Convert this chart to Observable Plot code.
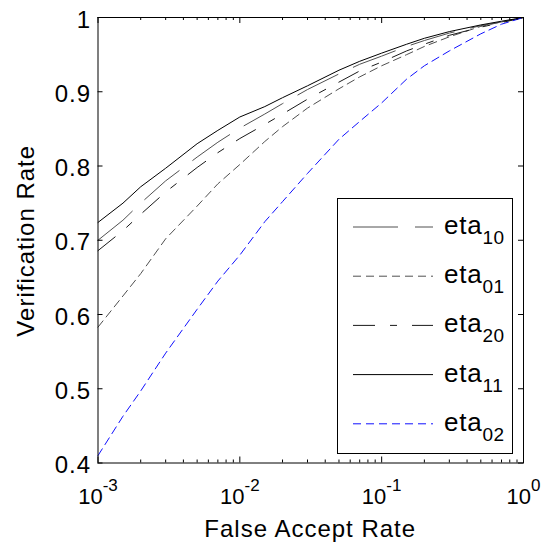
<!DOCTYPE html>
<html><head><meta charset="utf-8">
<script src="https://cdn.jsdelivr.net/npm/d3@7"></script>
<script src="https://cdn.jsdelivr.net/npm/@observablehq/plot@0.6"></script>
<style>
body{margin:0;background:#fff;}
#chart{width:545px;height:546px;}
#chart svg{font-family:"Liberation Sans",Arial,sans-serif;}
</style></head><body><div id="chart"></div>
<script>
// False accept rate sample points (x)
const far   = [0.001,0.0015,0.002,0.003,0.005,0.007,0.01,0.015,0.02,0.03,0.05,0.07,0.1,0.15,0.2,0.3,0.5,0.7,1];
// Verification rate per series
const eta10 = [0.700,0.727,0.750,0.780,0.812,0.832,0.851,0.870,0.884,0.903,0.924,0.937,0.948,0.961,0.969,0.979,0.989,0.994,1.0];
const eta01 = [0.583,0.625,0.655,0.702,0.746,0.776,0.802,0.833,0.853,0.878,0.904,0.920,0.935,0.950,0.961,0.974,0.988,0.994,1.0];
const eta20 = [0.686,0.713,0.735,0.765,0.798,0.818,0.837,0.856,0.870,0.890,0.913,0.928,0.940,0.955,0.964,0.976,0.987,0.993,1.0];
const eta11 = [0.724,0.750,0.772,0.797,0.830,0.848,0.866,0.880,0.892,0.908,0.929,0.941,0.952,0.964,0.972,0.981,0.990,0.995,1.0];
const eta02 = [0.410,0.463,0.497,0.548,0.607,0.645,0.680,0.725,0.752,0.790,0.836,0.860,0.885,0.917,0.935,0.955,0.978,0.991,1.0];

const seriesKeys = ["eta10","eta01","eta20","eta11","eta02"];
const seriesSubs = ["10","01","20","11","02"];
const seriesValues = [eta10,eta01,eta20,eta11,eta02];
const seriesColors = ["#505050","#505050","#1a1a1a","#000000","#1010ff"];
const seriesDash = ["45,17","8,5","22,15,7,15",null,"8,5"];

const yTicks = [0.4,0.5,0.6,0.7,0.8,0.9,1];
const xMajor = [0.001,0.01,0.1,1];
const xMinor = xMajor.slice(0,3).flatMap(d => d3.range(2,10).map(k => k*d));

const W = 545, H = 546;
const mT = 17, mB = 83.5, mL = 97.5, mR = 22;
const ih = H - mT - mB, iw = W - mL - mR;

const rows = seriesKeys.flatMap((k,i) => far.map((f,j) => ({series:k, far:f, vr:seriesValues[i][j]})));

const lineMarks = seriesKeys.map((k,i) => Plot.line(rows.filter(r => r.series === k), {
  x:"far", y:"vr", stroke: seriesColors[i], strokeWidth: 1,
  strokeDasharray: seriesDash[i] || undefined
}));

const plot = Plot.plot({
  width: W, height: H,
  marginTop: mT, marginBottom: mB, marginLeft: mL, marginRight: mR,
  style: {fontFamily: '"Liberation Sans", Arial, sans-serif', background: "#fff", color: "#000"},
  x: {type: "log", domain: [0.001, 1]},
  y: {domain: [0.4, 1]},
  marks: [
    ...lineMarks,
    // inward ticks on all four sides
    Plot.ruleX(xMajor, {x: d => d, insetBottom: ih - 6, stroke: "#000"}),
    Plot.ruleX(xMajor, {x: d => d, insetTop: ih - 6, stroke: "#000"}),
    Plot.ruleX(xMinor, {x: d => d, insetBottom: ih - 3, stroke: "#000"}),
    Plot.ruleX(xMinor, {x: d => d, insetTop: ih - 3, stroke: "#000"}),
    Plot.ruleY(yTicks, {y: d => d, insetRight: iw - 5, stroke: "#000"}),
    Plot.ruleY(yTicks, {y: d => d, insetLeft: iw - 5, stroke: "#000"}),
    Plot.axisY({ticks: yTicks, tickSize: 0, tickPadding: 7, fontSize: 24, dy: 2.5, label: null,
      tickFormat: d => d === 1 ? "1" : d.toFixed(1)}),
    Plot.axisX({ticks: xMajor, tickSize: 0, tickPadding: 25, fontSize: 22, label: null,
      tickFormat: d => "10^" + Math.round(Math.log10(d))}),
    Plot.frame({stroke: "#000", strokeWidth: 1})
  ]
});

document.getElementById("chart").appendChild(plot);
const svg = d3.select(plot);

svg.selectAll('[aria-label="y-axis tick label"] text').style("letter-spacing", "1px");

// superscripts on x tick labels
svg.selectAll('[aria-label="x-axis tick label"] text').each(function() {
  const t = d3.select(this);
  const s = t.text().split("^");
  t.text(s[0]);
  t.append("tspan").attr("dy", "-13").attr("font-size", 17).text(s[1]);
});

// axis titles
svg.append("text").attr("x", mL + iw/2).attr("y", 537).attr("text-anchor","middle")
  .attr("font-size", 24).attr("letter-spacing", "1px").attr("fill","#000").text("False Accept Rate");
svg.append("text").attr("transform", `translate(34,${mT + ih/2 + 1}) rotate(-90)`).attr("text-anchor","middle")
  .attr("font-size", 24).attr("letter-spacing", "1px").attr("fill","#000").text("Verification Rate");

// legend
const lg = svg.append("g").attr("text-anchor", "start");
lg.append("rect").attr("x", 337.5).attr("y", 198.5).attr("width", 175).attr("height", 255)
  .attr("fill", "#fff").attr("stroke", "#000").attr("stroke-width", 1);
seriesKeys.forEach((k,i) => {
  const y = 227 + i*49.2;
  lg.append("line").attr("x1", 353).attr("x2", 433).attr("y1", y).attr("y2", y)
    .attr("stroke", seriesColors[i]).attr("stroke-width", 1)
    .attr("stroke-dasharray", seriesDash[i] || null);
  const t = lg.append("text").attr("x", 444).attr("y", y + 7).attr("font-size", 26)
    .attr("letter-spacing", "0.8px").attr("fill", "#000");
  t.append("tspan").text("eta");
  t.append("tspan").attr("dy", 10).attr("font-size", 19).attr("letter-spacing", "0.5px").text(seriesSubs[i]);
});
</script></body></html>
